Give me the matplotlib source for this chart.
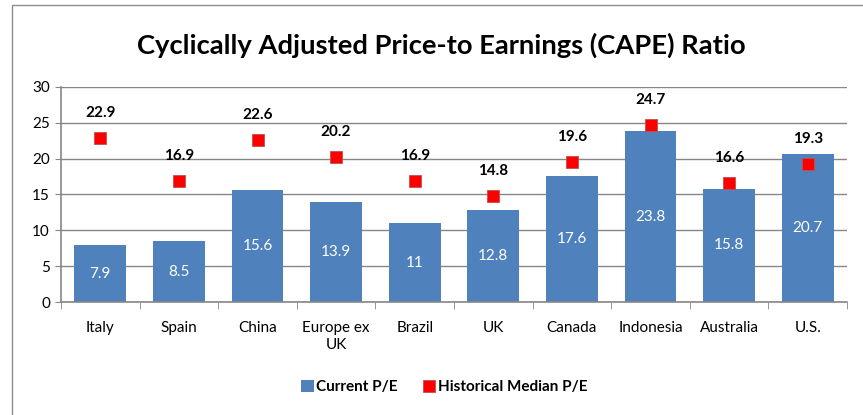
import matplotlib
matplotlib.use("Agg")
import matplotlib.pyplot as plt
from matplotlib.patches import Rectangle
import numpy as np

countries = ["Italy", "Spain", "China", "Europe ex\nUK", "Brazil", "UK",
             "Canada", "Indonesia", "Australia", "U.S."]
current_pe = [7.9, 8.5, 15.6, 13.9, 11, 12.8, 17.6, 23.8, 15.8, 20.7]
median_pe = [22.9, 16.9, 22.6, 20.2, 16.9, 14.8, 19.6, 24.7, 16.6, 19.3]
y_ticks = [0, 5, 10, 15, 20, 25, 30]

plt.rcParams["font.family"] = ["Lato", "DejaVu Sans"]

W, H = 863, 415
fig = plt.figure(figsize=(W / 100, H / 100), dpi=100)
ax = fig.add_axes([61 / W, 1 - 302 / H, (847 - 61) / W, (302 - 87) / H])

# outer chart frame
fig.patches.append(Rectangle((12 / W, -0.1), 1.2, 1 - 5 / H + 0.1,
                             transform=fig.transFigure, fill=False,
                             edgecolor="#8c8c8c", linewidth=1.0))

x = np.arange(len(countries))
bar_color = "#4F81BD"
bars = ax.bar(x, current_pe, width=0.66, color=bar_color, zorder=2,
              label="Current P/E")
pts, = ax.plot(x, median_pe, linestyle="none", marker="s", markersize=9,
               markerfacecolor="#FF0000", markeredgecolor="#C0504D",
               markeredgewidth=0.6, zorder=3, label="Historical Median P/E")

for xi, v in zip(x, current_pe):
    ax.text(xi, v / 2, f"{v:g}", ha="center", va="center", color="white",
            fontsize=11, zorder=4)
for xi, v in zip(x, median_pe):
    ax.annotate(f"{v:g}", (xi, v), xytext=(0, 18), textcoords="offset points",
                ha="center", va="center", fontsize=11, fontweight="bold",
                color="black", zorder=4)

ax.set_xlim(-0.5, len(countries) - 0.5)
ax.set_ylim(0, 30)
ax.set_yticks(y_ticks)
ax.tick_params(axis="y", labelsize=11, length=4, color="#868686", pad=4)
ax.set_xticks(x)
ax.set_xticklabels(countries, fontsize=11)
ax.tick_params(axis="x", length=0, pad=14)
ax.set_xticks(np.arange(len(countries) + 1) - 0.5, minor=True)
ax.tick_params(axis="x", which="minor", length=5, color="#868686")

ax.grid(axis="y", color="#868686", linewidth=1.0, zorder=0)
ax.set_axisbelow(True)
for side in ["top", "right"]:
    ax.spines[side].set_visible(False)
for side in ["left", "bottom"]:
    ax.spines[side].set_color("#868686")
    ax.spines[side].set_linewidth(1.2)

fig.text(441 / W, 1 - 45 / H, "Cyclically Adjusted Price-to Earnings (CAPE) Ratio",
         ha="center", va="center", fontsize=19.7, fontweight="bold")

fig.legend(handles=[bars, pts], loc="center", bbox_to_anchor=(444 / W, 1 - 387 / H),
           ncol=2, frameon=False, prop={"size": 11, "weight": "bold"},
           handlelength=0.86, handleheight=0.86, handletextpad=0.15,
           columnspacing=1.6)

fig.savefig("out.png", dpi=100)
